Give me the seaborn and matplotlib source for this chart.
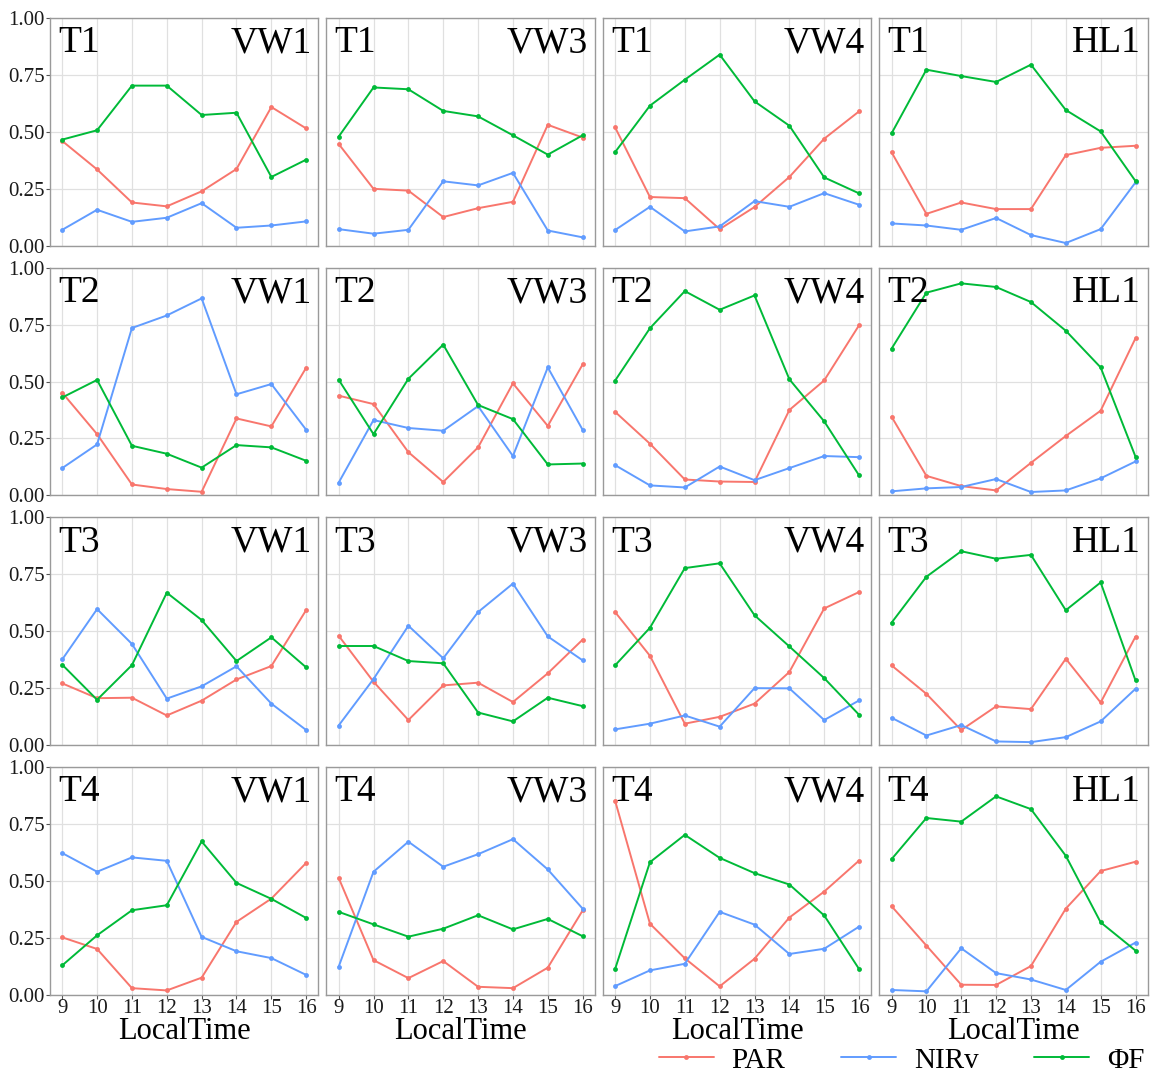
import pandas as pd
import matplotlib
matplotlib.use("Agg")
import matplotlib.pyplot as plt
from matplotlib.lines import Line2D
import seaborn as sns

# Data
HOURS = [9, 10, 11, 12, 13, 14, 15, 16]
TIMES = ["T1", "T2", "T3", "T4"]
SITES = ["VW1", "VW3", "VW4", "HL1"]

PAR = {
    "T1_VW1": [0.46, 0.335, 0.19, 0.173, 0.239, 0.337, 0.609, 0.515],
    "T1_VW3": [0.447, 0.25, 0.242, 0.126, 0.165, 0.193, 0.531, 0.475],
    "T1_VW4": [0.52, 0.214, 0.209, 0.073, 0.17, 0.302, 0.47, 0.59],
    "T1_HL1": [0.411, 0.14, 0.19, 0.161, 0.161, 0.398, 0.43, 0.439],
    "T2_VW1": [0.451, 0.269, 0.048, 0.028, 0.016, 0.338, 0.303, 0.561],
    "T2_VW3": [0.438, 0.401, 0.19, 0.059, 0.211, 0.492, 0.305, 0.575],
    "T2_VW4": [0.367, 0.227, 0.07, 0.061, 0.059, 0.375, 0.505, 0.747],
    "T2_HL1": [0.346, 0.086, 0.041, 0.022, 0.143, 0.261, 0.372, 0.69],
    "T3_VW1": [0.271, 0.206, 0.208, 0.13, 0.195, 0.288, 0.347, 0.593],
    "T3_VW3": [0.48, 0.278, 0.11, 0.262, 0.274, 0.189, 0.315, 0.463],
    "T3_VW4": [0.584, 0.392, 0.094, 0.124, 0.182, 0.321, 0.6, 0.672],
    "T3_HL1": [0.35, 0.225, 0.066, 0.17, 0.158, 0.379, 0.187, 0.476],
    "T4_VW1": [0.252, 0.201, 0.029, 0.019, 0.075, 0.32, 0.422, 0.579],
    "T4_VW3": [0.513, 0.152, 0.073, 0.148, 0.035, 0.029, 0.119, 0.37],
    "T4_VW4": [0.852, 0.312, 0.16, 0.037, 0.158, 0.339, 0.453, 0.589],
    "T4_HL1": [0.389, 0.216, 0.044, 0.043, 0.126, 0.378, 0.543, 0.584],
}

NIRV = {
    "T1_VW1": [0.07, 0.158, 0.105, 0.123, 0.187, 0.079, 0.089, 0.107],
    "T1_VW3": [0.073, 0.053, 0.07, 0.283, 0.265, 0.32, 0.067, 0.037],
    "T1_VW4": [0.069, 0.171, 0.063, 0.085, 0.196, 0.171, 0.231, 0.18],
    "T1_HL1": [0.098, 0.089, 0.07, 0.122, 0.047, 0.012, 0.073, 0.278],
    "T2_VW1": [0.12, 0.224, 0.735, 0.79, 0.865, 0.444, 0.489, 0.288],
    "T2_VW3": [0.056, 0.331, 0.296, 0.284, 0.392, 0.173, 0.562, 0.288],
    "T2_VW4": [0.133, 0.044, 0.035, 0.127, 0.067, 0.12, 0.173, 0.168],
    "T2_HL1": [0.018, 0.031, 0.037, 0.072, 0.015, 0.022, 0.075, 0.149],
    "T3_VW1": [0.376, 0.597, 0.444, 0.204, 0.258, 0.346, 0.182, 0.066],
    "T3_VW3": [0.086, 0.29, 0.524, 0.381, 0.584, 0.709, 0.477, 0.372],
    "T3_VW4": [0.069, 0.094, 0.13, 0.081, 0.25, 0.249, 0.11, 0.196],
    "T3_HL1": [0.12, 0.042, 0.088, 0.016, 0.013, 0.035, 0.104, 0.247],
    "T4_VW1": [0.622, 0.54, 0.603, 0.588, 0.254, 0.191, 0.161, 0.087],
    "T4_VW3": [0.123, 0.54, 0.672, 0.562, 0.617, 0.683, 0.55, 0.378],
    "T4_VW4": [0.038, 0.107, 0.136, 0.364, 0.308, 0.179, 0.202, 0.299],
    "T4_HL1": [0.021, 0.015, 0.204, 0.095, 0.067, 0.021, 0.145, 0.229],
}

PHIF = {
    "T1_VW1": [0.466, 0.507, 0.703, 0.703, 0.574, 0.584, 0.302, 0.378],
    "T1_VW3": [0.479, 0.695, 0.687, 0.592, 0.568, 0.485, 0.40, 0.485],
    "T1_VW4": [0.411, 0.615, 0.729, 0.839, 0.634, 0.527, 0.30, 0.23],
    "T1_HL1": [0.493, 0.773, 0.745, 0.719, 0.795, 0.596, 0.502, 0.284],
    "T2_VW1": [0.43, 0.507, 0.218, 0.183, 0.122, 0.221, 0.211, 0.152],
    "T2_VW3": [0.508, 0.269, 0.512, 0.662, 0.397, 0.335, 0.136, 0.14],
    "T2_VW4": [0.504, 0.734, 0.897, 0.815, 0.878, 0.51, 0.325, 0.088],
    "T2_HL1": [0.644, 0.89, 0.931, 0.915, 0.849, 0.723, 0.562, 0.17],
    "T3_VW1": [0.353, 0.199, 0.351, 0.669, 0.549, 0.369, 0.473, 0.341],
    "T3_VW3": [0.435, 0.435, 0.369, 0.359, 0.143, 0.104, 0.208, 0.171],
    "T3_VW4": [0.35, 0.515, 0.777, 0.798, 0.57, 0.433, 0.294, 0.133],
    "T3_HL1": [0.537, 0.739, 0.851, 0.818, 0.835, 0.592, 0.714, 0.284],
    "T4_VW1": [0.129, 0.261, 0.371, 0.393, 0.673, 0.491, 0.421, 0.337],
    "T4_VW3": [0.364, 0.309, 0.255, 0.29, 0.349, 0.287, 0.333, 0.257],
    "T4_VW4": [0.113, 0.582, 0.702, 0.601, 0.534, 0.484, 0.348, 0.113],
    "T4_HL1": [0.595, 0.776, 0.76, 0.871, 0.815, 0.61, 0.318, 0.194],
}

VARS = ["PAR", "NIRv", "ΦF"]
COLORS = {"PAR": "#F8766D", "NIRv": "#619CFF", "ΦF": "#00BA38"}

# long-form table
rows = []
for t in TIMES:
    for s in SITES:
        key = f"{t}_{s}"
        for name, src in zip(VARS, [PAR, NIRV, PHIF]):
            for h, v in zip(HOURS, src[key]):
                rows.append({"time": t, "site": s, "LocalTime": h, "var": name, "value": v})
df = pd.DataFrame(rows)

sns.set_theme(style="whitegrid")
plt.rcParams["font.family"] = ["Liberation Serif", "DejaVu Serif"]
plt.rcParams["text.color"] = "black"
plt.rcParams["axes.labelcolor"] = "black"

fig, axes = plt.subplots(4, 4, figsize=(11.5, 10.76), dpi=100)
fig.subplots_adjust(left=0.0435, right=0.998, top=0.9833, bottom=0.0755,
                    wspace=0.03, hspace=0.096)

for i, t in enumerate(TIMES):
    for j, s in enumerate(SITES):
        ax = axes[i, j]
        sub = df[(df["time"] == t) & (df["site"] == s)]
        sns.lineplot(data=sub, x="LocalTime", y="value", hue="var",
                     hue_order=VARS, palette=COLORS, marker="o",
                     markersize=3.5, markeredgewidth=0, linewidth=1.4,
                     ax=ax, legend=False)
        ax.set_xlim(8.65, 16.35)
        ax.set_ylim(0, 1)
        ax.set_xticks(HOURS)
        ax.set_yticks([0, 0.25, 0.5, 0.75, 1.0])
        ax.grid(True, color="#e0e0e0", linewidth=0.9)
        for sp in ax.spines.values():
            sp.set_color("#9a9a9a")
            sp.set_linewidth(1.0)
        ax.tick_params(axis="both", length=3, width=0.8, color="#555555",
                       labelsize=15, labelcolor="#1a1a1a", pad=1)
        ax.tick_params(axis="x", bottom=(i == 3), labelbottom=(i == 3), pad=0)
        ax.tick_params(axis="y", left=(j == 0), labelleft=(j == 0))
        if j == 0:
            ax.set_yticklabels(["0.00", "0.25", "0.50", "0.75", "1.00"])
        ax.set_ylabel("")
        if i == 3:
            ax.set_xlabel("LocalTime", fontsize=22, labelpad=-1)
        else:
            ax.set_xlabel("")
        ax.text(0.03, 0.965, t, transform=ax.transAxes, fontsize=27,
                ha="left", va="top")
        ax.text(0.975, 0.965, s, transform=ax.transAxes, fontsize=27,
                ha="right", va="top")

handles = [Line2D([0], [0], color=COLORS[v], linewidth=1.4, marker="o",
                  markersize=3.5, markeredgewidth=0) for v in VARS]
fig.legend(handles, VARS, loc="center right", bbox_to_anchor=(0.995, 0.0145),
           ncol=3, frameon=False, fontsize=21, handlelength=1.9,
           handletextpad=0.6, columnspacing=1.9, borderaxespad=0,
           borderpad=0.0)

fig.savefig("out.png", dpi=100)
